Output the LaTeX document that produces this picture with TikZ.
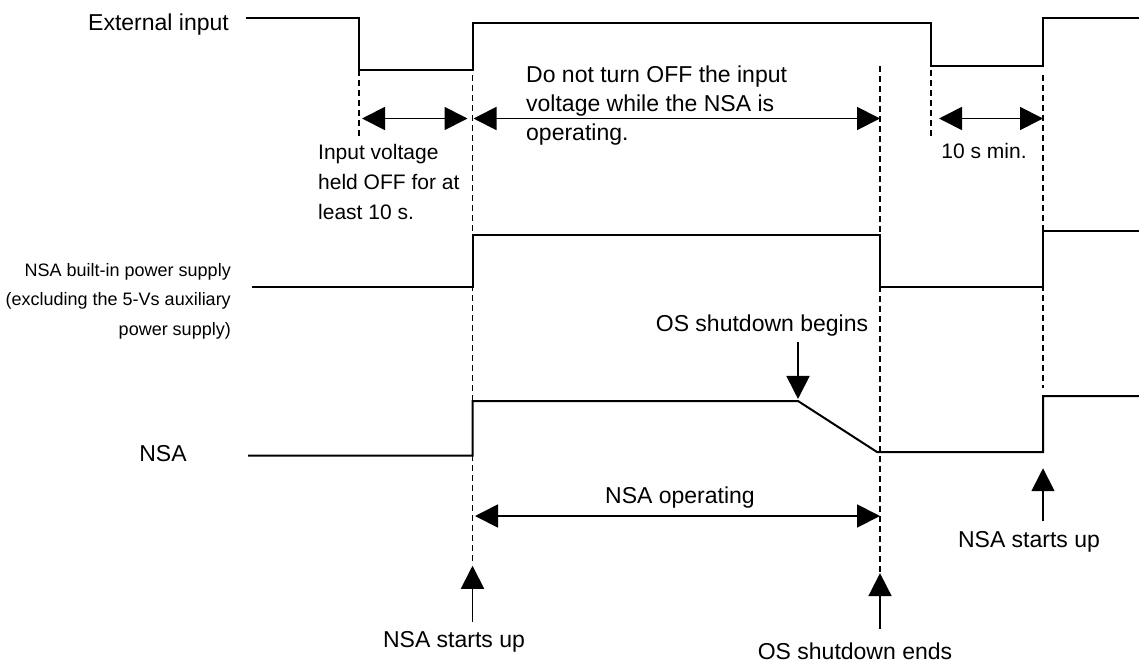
\documentclass[tikz,border=0pt]{standalone}
\usepackage{fontspec}
\setmainfont{Liberation Sans}
\usetikzlibrary{arrows.meta,positioning,calc}

\begin{document}
\begin{tikzpicture}[
    x=1pt, y=-1pt,
    wave/.style={line width=2pt, line join=miter},
    guide/.style={line width=1.3pt, dash pattern=on 6pt off 4pt},
    dimarrow/.style={line width=1.8pt, {Triangle[length=23pt,width=23pt]}-{Triangle[length=23pt,width=23pt]}},
    evarrow/.style={line width=1.8pt, -{Triangle[length=23pt,width=23pt]}},
    lblbig/.style={font=\fontsize{23}{29}\selectfont, inner sep=0pt},
    lblsmall/.style={font=\fontsize{21}{30}\selectfont, inner sep=0pt, align=left},
    lbltiny/.style={font=\fontsize{18}{29.5}\selectfont, inner sep=0pt, align=right}
]
    \useasboundingbox (0,0) rectangle (1139,664);

    % time marks
    \coordinate (ta) at (359,0);
    \coordinate (tb) at (472.5,0);
    \coordinate (ts) at (798,0);
    \coordinate (tc) at (880,0);
    \coordinate (td) at (931,0);
    \coordinate (te) at (1043,0);
    \coordinate (rdim) at (0,118.5);
    \coordinate (rop) at (0,516);

    % signal names
    \node[lblbig, anchor=base east] (extin) at (229,30) {External input};
    \node[lbltiny, anchor=base east] (bips) at (231,335) {NSA built-in power supply\\(excluding the 5-Vs auxiliary\\power supply)};
    \node[lblbig, anchor=base] (nsa) at (163,461.7) {NSA};

    % waveforms
    \draw[wave] (245.7,18.3) -- (359,18.3) -- (359,70) -- (472.5,70) -- (472.5,22.7)
        -- (931,22.7) -- (931,65.7) -- (1043,65.7) -- (1043,18.3) -- (1139,18.3);
    \draw[wave] (251.7,286.7) -- (472.5,286.7) -- (472.5,235) -- (880,235)
        -- (880,287) -- (1043,287) -- (1043,231) -- (1139,231);
    \draw[wave] (248,455.7) -- (472.5,455.7) -- (472.5,401) -- (798,401)
        -- (877,452) -- (1043,452) -- (1043,396) -- (1139,396);

    % guide lines
    \draw[guide] (ta |- 0,70) -- (ta |- 0,136);
    \draw[guide] (tb |- 0,75) -- (tb |- 0,562);
    \draw[guide] (tc |- 0,66) -- (tc |- 0,615);
    \draw[guide] (td |- 0,70) -- (td |- 0,137);
    \draw[guide] (te |- 0,75) -- (te |- 0,388);

    % intervals
    \draw[dimarrow, shorten <=3pt, shorten >=5pt] (ta |- rdim) -- (tb |- rdim);
    \draw[dimarrow, shorten <=1pt] (tb |- rdim) -- (tc |- rdim);
    \draw[dimarrow, shorten <=8pt] (td |- rdim) -- (te |- rdim);
    \draw[dimarrow, shorten <=2.5pt] (tb |- rop) -- (tc |- rop);

    \node[lblsmall, anchor=base west] (offnote) at (318,219.5) {Input voltage\\held OFF for at\\least 10 s.};
    \node[lblbig, align=left, anchor=base west] (donot) at (526,140) {Do not turn OFF the input\\voltage while the NSA is\\operating.};
    \node[lblsmall, anchor=base] (minnote) at (984,158) {10 s min.};
    \node[lblbig, anchor=base] (nsaop) at (680,503) {NSA operating};

    % events
    \node[lblbig, anchor=base] (osbeg) at (762,331) {OS shutdown begins};
    \node[lblbig, anchor=base] (start1) at (454,647) {NSA starts up};
    \node[lblbig, anchor=base] (osend) at (855,659) {OS shutdown ends};
    \node[lblbig, anchor=base] (start2) at (1029,547) {NSA starts up};

    \draw[evarrow] (ts |- osbeg.south) ++(0,6) -- ++(0,57);
    \draw[evarrow] (tb |- start1.north) ++(0,-9) -- ++(0,-56);
    \draw[evarrow] (tc |- osend.north) ++(0,-13) -- ++(0,-56);
    \draw[evarrow] (te |- start2.north) ++(0,-9.5) -- ++(0,-53);
\end{tikzpicture}
\end{document}
